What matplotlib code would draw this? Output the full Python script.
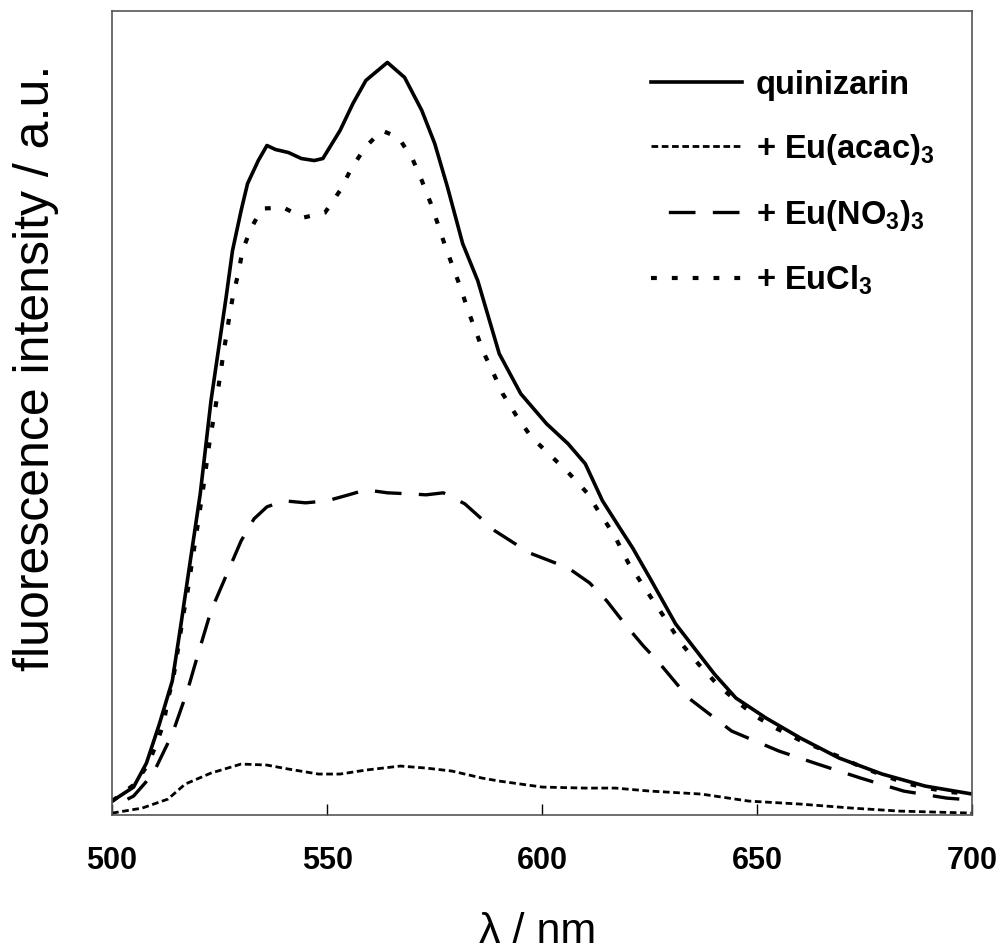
import numpy as np
import matplotlib
matplotlib.use('Agg')
import matplotlib.pyplot as plt

plt.rcParams['font.family'] = ['Liberation Sans', 'DejaVu Sans']
plt.rcParams['mathtext.fontset'] = 'custom'
plt.rcParams['mathtext.rm'] = 'Liberation Sans:bold'
plt.rcParams['mathtext.bf'] = 'Liberation Sans:bold'
plt.rcParams['mathtext.default'] = 'bf'

# quinizarin alone
wl_q = [500, 505, 508, 511, 514, 516, 517.5, 520.5, 523, 526.5, 528, 530, 531.5, 534, 536, 538,
        541, 544, 547, 549, 553, 556, 559, 564, 568, 572, 575, 578, 581.5, 585, 590, 595, 601,
        606, 610, 614, 618, 621, 625, 631, 640, 645, 652, 660, 669, 679, 689, 700]
int_q = [14, 28, 52, 91, 134, 190, 234, 321, 414, 517, 564, 604, 631, 654, 669, 665,
         662, 656, 654, 656, 684, 711, 734, 752, 737, 704, 671, 627, 571, 534, 461, 421, 391,
         371, 351, 314, 287, 267, 237, 191, 141, 117, 97, 77, 57, 41, 29, 21]

# + Eu(acac)3
wl_acac = [500, 507, 513, 517, 523, 530, 536, 541, 548, 553, 559, 567, 573, 579, 586, 590,
           600, 610, 617, 625, 637, 648, 660, 672, 683, 700]
int_acac = [2, 7, 16, 31, 42, 51, 50, 46, 41, 41, 45, 49, 47, 44, 37, 34,
            28, 27, 27, 24, 21, 14, 11, 7, 4, 2]

# + Eu(NO3)3
wl_no3 = [500, 505, 509.5, 514, 517.5, 520, 523, 526, 530, 533, 536, 540, 545, 550, 555, 559,
          564, 569, 573, 577, 582, 589, 597, 600, 606, 611, 615, 619, 623.5, 627, 634, 644,
          655, 664, 674, 684, 694, 700]
int_no3 = [8, 19, 41, 81, 124, 161, 204, 234, 274, 296, 308, 314, 312, 314, 320, 325,
           322, 321, 320, 322, 311, 284, 262, 257, 247, 232, 214, 192, 169, 153, 117, 84,
           64, 51, 37, 24, 17, 15]

# + EuCl3
wl_cl = [500, 505.3, 508.4, 510.4, 512, 513, 514.2, 515, 515.8, 516.6, 517.5, 519.7, 521.2,
         522.6, 524.2, 525.7, 527.3, 528.2, 529.4, 530.3, 532.3, 534.8, 539.8, 544.5, 549.5,
         553, 555.5, 558.8, 562.7, 566.6, 569.9, 572, 574.1, 575.7, 577.4, 579.2, 581.1,
         582.6, 584.4, 586.5, 588.7, 590.8, 594, 597.4, 601.5, 605.9, 610.4, 613.6, 616.7,
         620, 625.5, 628.8, 632.2, 636.3, 640.6, 645.1, 649.9, 654.7, 659.8, 664.8, 669.7,
         674.7, 679.8, 684.4, 689.5, 694.9, 700]
int_cl = [14, 31, 51, 72, 92, 116, 136, 157, 179, 201, 222, 284, 327,
          371, 412, 456, 499, 521, 542, 564, 586, 606, 607, 597, 602,
          624, 645, 667, 684, 677, 655, 634, 611, 591, 569, 548, 526,
          506, 485, 461, 441, 421, 399, 378, 361, 343, 322, 300, 280,
          252, 216, 195, 172, 151, 131, 114, 98, 86, 75, 66, 57,
          47, 39, 32, 27, 23, 21]

fig = plt.figure(figsize=(10.04, 9.5), dpi=100)
ax = fig.add_axes([0.1116, 0.142, 0.857, 0.846])

ax.plot(wl_q, int_q, color='black', lw=2.6, label='quinizarin')
ax.plot(wl_acac, int_acac, color='black', lw=2.0, linestyle=(0, (2.4, 1.3)),
        label=r'+ Eu(acac)$_3$')
ax.plot(wl_no3, int_no3, color='black', lw=2.4, linestyle=(8, (8, 5.2)),
        label=r'+ Eu(NO$_3$)$_3$')
ax.plot(wl_cl, int_cl, color='black', lw=3.0, linestyle=(0, (1.4, 3.6)),
        label=r'+ EuCl$_3$')

ax.set_xlim(500, 700)
ax.set_ylim(0, 803)
ax.set_xticks([500, 550, 600, 650, 700])
ax.set_yticks([])
ax.tick_params(axis='x', direction='in', length=8, width=1, pad=22, labelsize=22)
for lab in ax.get_xticklabels():
    lab.set_fontweight('bold')
for sp in ax.spines.values():
    sp.set_color('#555555')
    sp.set_linewidth(1.2)

ax.set_xlabel('λ / nm', fontsize=31)
ax.xaxis.set_label_coords(0.495, -0.12)
ax.set_ylabel('fluorescence intensity / a.u.', fontsize=36)
ax.yaxis.set_label_coords(-0.062, 0.556)

leg = ax.legend(loc='upper right', bbox_to_anchor=(0.99, 0.964), frameon=False,
                handlelength=2.8, handletextpad=0.43, labelspacing=0.95,
                prop={'size': 23.5, 'weight': 'bold'})

fig.savefig('out.png', dpi=100)
